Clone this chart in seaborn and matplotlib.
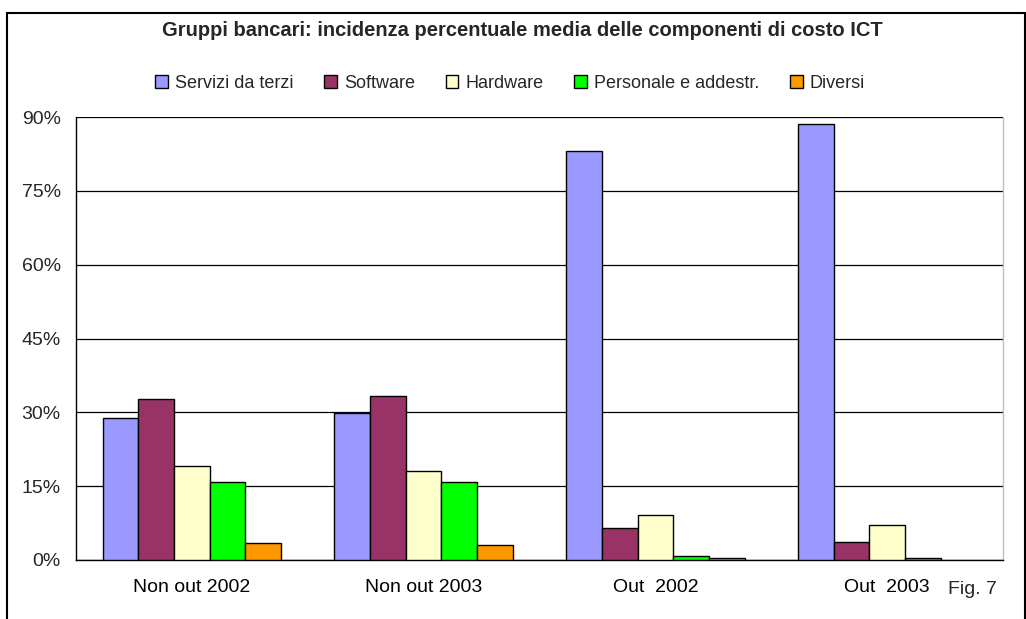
import matplotlib
matplotlib.use("Agg")
import matplotlib.pyplot as plt
import seaborn as sns
import pandas as pd
from matplotlib.patches import Patch, Rectangle

categories = ["Non out 2002", "Non out 2003", "Out  2002", "Out  2003"]
components = ["Servizi da terzi", "Software", "Hardware", "Personale e addestr.", "Diversi"]
servizi = [28.8, 29.8, 83.1, 88.6]
software = [32.8, 33.4, 6.4, 3.7]
hardware = [19.0, 18.1, 9.2, 7.1]
personale = [15.8, 15.8, 0.9, 0.4]
diversi = [3.4, 3.1, 0.4, None]
colors = ["#9999FF", "#993366", "#FFFFCC", "#00FF00", "#FF9900"]
yticks = [0, 15, 30, 45, 60, 75, 90]

series = [servizi, software, hardware, personale, diversi]
rows = []
for comp, vals in zip(components, series):
    for cat, v in zip(categories, vals):
        if v is not None:
            rows.append({"cat": cat, "comp": comp, "val": v})
df = pd.DataFrame(rows)

sns.set_style("white")
plt.rcParams["font.family"] = ["Liberation Sans", "DejaVu Sans"]

fig = plt.figure(figsize=(10.26, 6.19), dpi=100)
ax = fig.add_axes([76 / 1026, (619 - 560) / 619, (1003 - 76) / 1026, (560 - 117) / 619])

sns.barplot(data=df, x="cat", y="val", hue="comp", order=categories, hue_order=components,
            palette=colors, saturation=1, edgecolor="black", linewidth=1.0, width=0.77, gap=0,
            legend=False, ax=ax, zorder=3)

ax.set_ylim(0, 90)
ax.set_xlim(-0.5, 3.5)
ax.set_yticks(yticks)
ax.set_yticklabels([f"{t}%" for t in yticks])
ax.yaxis.grid(True, color="black", linewidth=0.9)
ax.set_axisbelow(True)
ax.set_xlabel("")
ax.set_ylabel("")

ax.set_xticks([0, 1, 2, 3])
ax.set_xticks([-0.5, 0.5, 1.5, 2.5, 3.5], minor=True)
ax.tick_params(axis="x", which="major", length=0, labelsize=14, pad=14, colors="black")
ax.tick_params(axis="x", which="minor", length=6, width=1, color="black", direction="out")
ax.tick_params(axis="y", length=6, width=1, color="black", direction="out", labelsize=14, pad=5)

ax.spines["top"].set_visible(False)
ax.spines["right"].set_color("#c0c0c0")
ax.spines["right"].set_linewidth(1)
for s in ["left", "bottom"]:
    ax.spines[s].set_color("black")
    ax.spines[s].set_linewidth(1)

fig.text(522 / 1026, 1 - 30 / 619, "Gruppi bancari: incidenza percentuale media delle componenti di costo ICT",
         ha="center", va="center", fontsize=14.5, fontweight="bold")

handles = [Patch(facecolor=c, edgecolor="black", linewidth=1) for c in colors]
fig.legend(handles, components, loc="center", bbox_to_anchor=(510 / 1026, 1 - 83 / 619), ncol=5,
           frameon=False, fontsize=13, handlelength=0.7, handleheight=0.7, handletextpad=0.4,
           columnspacing=1.7)

fig.text(972 / 1026, 1 - 590 / 619, "Fig. 7", ha="center", va="center", fontsize=14)

fig.patches.append(Rectangle((7 / 1026, -0.05), (1025 - 7) / 1026, 1 - 13 / 619 + 0.05,
                             transform=fig.transFigure, fill=False, edgecolor="black", linewidth=1.5))

fig.savefig("out.png", dpi=100)
